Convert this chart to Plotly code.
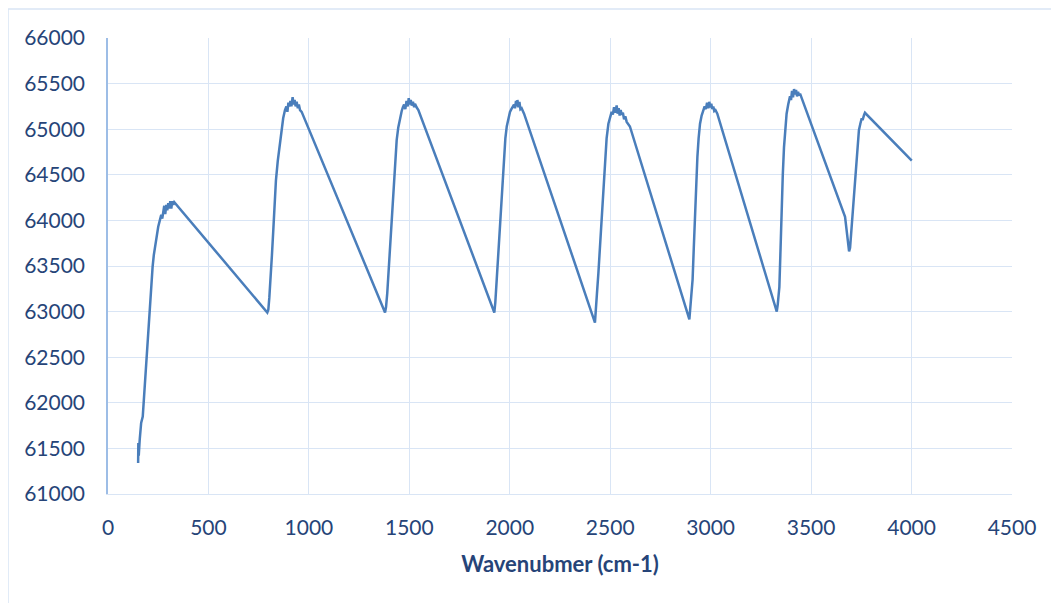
import plotly.graph_objects as go

# Wavenumber (cm-1) and intensity
wavenumber = [
    150, 151, 153, 158, 165, 173, 180, 188, 193, 200, 209, 215, 222, 228, 234, 242, 250, 258,
    265, 270, 275, 280, 285, 290, 295, 300, 305, 310, 315, 320, 325, 330,
    793, 798, 803, 810, 816, 823, 830, 836, 845, 853, 860, 865, 872, 881, 888, 893, 898, 903,
    908, 913, 919, 924, 929, 934, 939, 945, 950, 956, 964,
    1379, 1384, 1390, 1395, 1403, 1412, 1418, 1424, 1430, 1437, 1445, 1454, 1462, 1468, 1474,
    1480, 1486, 1492, 1497, 1502, 1507, 1512, 1518, 1524, 1528, 1536, 1545,
    1923, 1928, 1935, 1942, 1948, 1954, 1960, 1966, 1971, 1978, 1985, 1993, 2001, 2008, 2014,
    2021, 2026, 2031, 2035, 2038, 2043, 2048, 2053, 2059, 2065, 2071,
    2424, 2428, 2434, 2441, 2450, 2458, 2466, 2474, 2482, 2491, 2499, 2507, 2513, 2519, 2525,
    2532, 2537, 2542, 2547, 2552, 2557, 2563, 2569, 2575, 2582, 2590, 2598,
    2894, 2899, 2904, 2910, 2916, 2922, 2928, 2934, 2940, 2947, 2955, 2963, 2970, 2976, 2982,
    2988, 2993, 2998, 3003, 3008, 3013, 3018, 3024, 3033,
    3329, 3334, 3338, 3342, 3348, 3353, 3359, 3365, 3371, 3378, 3386, 3395, 3400, 3405, 3410,
    3415, 3420, 3425, 3430, 3435, 3440, 3445,
    3669, 3675, 3680, 3685, 3689, 3694, 3698, 3702, 3708, 3715, 3721, 3727, 3732, 3738, 3745,
    3752, 3756, 3760, 3764, 3768,
    4001,
]
intensity = [
    61340, 61560, 61420, 61600, 61780, 61850, 62100, 62350, 62510, 62800, 63050, 63280, 63490, 63620, 63710, 63840, 63930, 64000,
    64060, 64020, 64110, 64160, 64070, 64170, 64110, 64190, 64130, 64210, 64130, 64210, 64170, 64200,
    62990, 63020, 63150, 63350, 63620, 63900, 64180, 64440, 64650, 64810, 64940, 65030, 65120, 65210, 65250, 65190, 65290, 65250,
    65310, 65250, 65350, 65270, 65320, 65250, 65300, 65230, 65270, 65210, 65190,
    62990, 63050, 63200, 63380, 63700, 64000, 64230, 64440, 64680, 64880, 65020, 65140, 65200, 65240, 65270,
    65220, 65310, 65250, 65340, 65270, 65320, 65260, 65300, 65240, 65280, 65240, 65210,
    62990, 63100, 63350, 63600, 63820, 64080, 64330, 64550, 64740, 64900, 65030, 65110, 65190, 65220, 65250,
    65270, 65230, 65310, 65250, 65320, 65240, 65300, 65220, 65230, 65200, 65170,
    62880, 63050, 63200, 63420, 63760, 64080, 64400, 64700, 64900, 65060, 65140, 65190, 65160, 65240, 65180,
    65260, 65170, 65230, 65150, 65210, 65160, 65180, 65110, 65140, 65080, 65060, 65030,
    62915, 63050, 63200, 63350, 63700, 64080, 64400, 64700, 64900, 65060, 65150, 65210, 65250, 65220, 65290,
    65230, 65300, 65240, 65280, 65220, 65250, 65200, 65210, 65170,
    63000, 63080, 63150, 63270, 63700, 64150, 64500, 64800, 65000, 65170, 65270, 65360, 65320, 65420, 65350,
    65440, 65380, 65430, 65360, 65410, 65370, 65390,
    64040, 63930, 63820, 63720, 63660, 63700, 63820, 63900, 64080, 64260, 64450, 64630, 64800, 64990, 65060,
    65120, 65100, 65150, 65160, 65180,
    64655,
]

x_ticks = [0, 500, 1000, 1500, 2000, 2500, 3000, 3500, 4000, 4500]
y_ticks = [61000, 61500, 62000, 62500, 63000, 63500, 64000, 64500, 65000, 65500, 66000]
x_title = "Wavenubmer (cm-1)"

text_color = "#264478"
grid_color = "#d9e5f5"
font_family = "Lato, 'Open Sans', sans-serif"

fig = go.Figure()
fig.add_trace(go.Scatter(
    x=wavenumber, y=intensity, mode="lines",
    line=dict(color="#4a7ebb", width=2.5),
    showlegend=False, hoverinfo="x+y",
))

fig.update_layout(
    width=1051, height=595,
    margin=dict(l=100, r=47, t=30, b=109),
    paper_bgcolor="white", plot_bgcolor="white",
    font=dict(family=font_family, color=text_color, size=21),
    xaxis=dict(
        range=[0, 4500], tickvals=x_ticks, ticktext=[str(v) for v in x_ticks],
        showgrid=True, gridcolor=grid_color, gridwidth=1.3,
        showline=True, linecolor=grid_color, linewidth=1.3,
        zeroline=False, ticks="", ticklabelstandoff=15,
        tickfont=dict(size=21, color=text_color, family=font_family),
        title=dict(text="<b>" + x_title + "</b>", standoff=18,
                   font=dict(size=22, color=text_color, family=font_family)),
    ),
    yaxis=dict(
        range=[61000, 66000], tickvals=y_ticks, ticktext=[str(v) for v in y_ticks],
        showgrid=True, gridcolor=grid_color, gridwidth=1.3,
        showline=True, linecolor="#9dbde6", linewidth=1.5,
        zeroline=False, ticks="", ticklabelstandoff=17,
        tickfont=dict(size=21, color=text_color, family=font_family),
    ),
    shapes=[dict(
        type="rect", xref="paper", yref="paper",
        x0=-0.1106, x1=1.2, y0=-0.4, y1=1.0636,
        line=dict(color="#d9e5f5", width=1.5), fillcolor="rgba(0,0,0,0)", layer="below",
    )],
)

fig.write_html("out.html")
